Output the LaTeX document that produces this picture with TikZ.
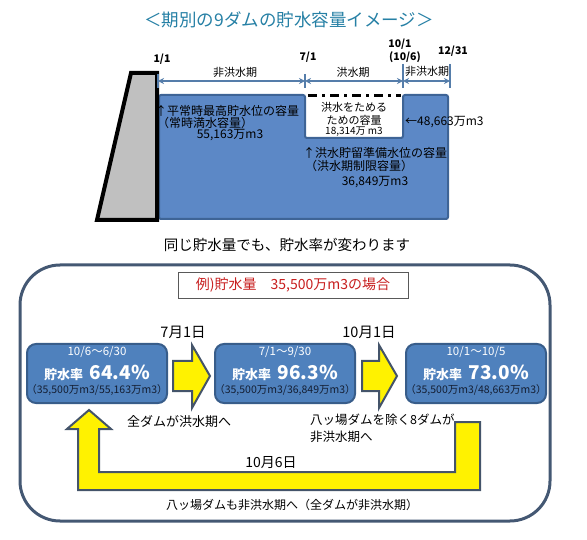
\documentclass[tikz,border=0pt]{standalone}
\usepackage{fontspec}
\setmainfont{Noto Sans CJK JP}
\usetikzlibrary{arrows.meta, positioning, calc}
\definecolor{ttlteal}{RGB}{38,128,165}
\definecolor{wblue}{RGB}{92,136,198}
\definecolor{wedge}{RGB}{62,100,150}
\definecolor{bxblue}{RGB}{79,129,189}
\definecolor{bxedge}{RGB}{56,93,138}
\definecolor{dimblue}{RGB}{85,125,170}
\definecolor{framegr}{RGB}{68,88,115}
\definecolor{yedge}{RGB}{68,84,106}
\definecolor{exred}{RGB}{200,30,30}
\definecolor{damgray}{RGB}{192,192,192}
\definecolor{qtyink}{RGB}{20,30,50}
\newcommand{\fsz}[1]{\fontsize{#1}{#1}\selectfont}

\begin{document}
\begin{tikzpicture}[x=1pt, y=-1pt,
  lbl/.style={inner sep=0pt, font=\fsz{12}},
  datelbl/.style={inner sep=0pt, font=\fsz{10.5}\bfseries},
  period/.style={inner sep=0pt, font=\fsz{11}},
  ratebox/.style={rectangle, rounded corners=9pt, draw=bxedge, line width=2pt, fill=bxblue, minimum width=140pt, minimum height=59pt},
  datetxt/.style={inner sep=0pt, text=white, font=\fsz{11.5}},
  ratetxt/.style={inner sep=0pt, text=white, font=\fsz{13}\bfseries},
  qtytxt/.style={inner sep=0pt, text=qtyink, font=\fsz{10.5}},
  daytxt/.style={inner sep=0pt, font=\fsz{14.5}},
  note/.style={inner sep=0pt, font=\fsz{12.5}},
  yarr/.style={draw=yedge, line width=2pt, fill=yellow, line join=miter},
  dimarr/.style={{Stealth[length=6pt,width=6pt]}-{Stealth[length=6pt,width=6pt]}, dimblue, line width=1.2pt},
  dimtick/.style={dimblue, line width=1.2pt}
]
\useasboundingbox (0,0) rectangle (587,540);

% title
\node[inner sep=0pt, text=ttlteal, font=\fsz{17.5}] (title) at (289,20) {＜期別の9ダムの貯水容量イメージ＞};

% reservoir and dam
\draw[fill=wblue, draw=wedge, line width=2pt, rounded corners=2pt] (159,95) -- (305,95) -- (305,138) -- (403,138) -- (403,95) -- (448,95) -- (448,219) -- (159,219) -- cycle;
\draw[fill=damgray, line width=4pt, line join=miter] (131,73) -- (157,73) -- (157,220) -- (97,220) -- cycle;
\draw[line width=3pt, dash pattern=on 9pt off 5pt on 3pt off 5pt] (308,96) -- (401,96);

% period scale
\foreach \x/\y in {158/74, 305/74, 403/64, 450/64}
  \draw[dimtick] (\x,\y) -- (\x,88);
\coordinate (t1) at (158,81);
\coordinate (t2) at (305,81);
\coordinate (t3) at (403,81);
\coordinate (t4) at (450,81);
\draw[dimarr] (t1) -- (t2);
\draw[dimarr] (t2) -- (t3);
\draw[dimarr] (t3) -- (t4);

\node[datelbl] (d1) at (162,59) {1/1};
\node[datelbl] (d2) at (308,57) {7/1};
\node[datelbl] (d3) at (400,44) {10/1};
\node[datelbl] (d3b) at (405,57) {(10/6)};
\node[datelbl] (d4) at (453,51) {12/31};
\node[period] (p1) at (235,72) {非洪水期};
\node[period] (p2) at (353,72) {洪水期};
\node[period] (p3) at (427,71) {非洪水期};

% capacity labels
\node[lbl, anchor=west] (cap1) at (155,111) {↑平常時最高貯水位の容量};
\node[lbl, anchor=west] (cap1b) at (157,123) {（常時満水容量）};
\node[lbl] (cap1c) at (230,135) {55,163万m3};
\node[lbl, font=\fsz{11}] (nt1) at (354,107) {洪水をためる};
\node[lbl, font=\fsz{11}] (nt2) at (354,120) {ための容量};
\node[lbl, font=\fsz{10}] (nt3) at (354,132) {18,314万 m3};
\node[lbl, anchor=west] (cap3) at (405,122) {←48,663万m3};
\node[lbl, anchor=west] (cap2) at (303,153) {↑洪水貯留準備水位の容量};
\node[lbl, anchor=west] (cap2b) at (305,166) {（洪水期制限容量）};
\node[lbl] (cap2c) at (375,182) {36,849万m3};

\node[inner sep=0pt, font=\fsz{14.5}] (msg) at (287,245) {同じ貯水量でも、貯水率が変わります};

% example frame
\draw[draw=framegr, line width=3pt, rounded corners=40pt] (20,265) rectangle (550,521);
\node[draw=gray!70!black, line width=0.8pt, fill=white, text=exred, font=\fsz{14}, minimum width=230pt, minimum height=26pt, inner sep=0pt] (ex) at (293,285) {例)貯水量\quad 35,500万m3の場合};

% storage ratio boxes
\node[ratebox] (r1) at (97,373.5) {};
\node[ratebox, right=46pt of r1] (r2) {};
\node[ratebox, right=49pt of r2] (r3) {};

\node[datetxt] (r1d) at ([yshift=-9pt]r1.north) {10/6〜6/30};
\node[ratetxt] (r1p) at ([yshift=1pt]r1.center) {貯水率\enspace{\fsz{19}64.4\%}};
\node[qtytxt] (r1q) at ([yshift=14pt]r1.south) {（35,500万m3/55,163万m3）};
\node[datetxt] (r2d) at ([yshift=-9pt]r2.north) {7/1〜9/30};
\node[ratetxt] (r2p) at ([yshift=1pt]r2.center) {貯水率\enspace{\fsz{19}96.3\%}};
\node[qtytxt] (r2q) at ([yshift=14pt]r2.south) {（35,500万m3/36,849万m3）};
\node[datetxt] (r3d) at ([yshift=-9pt]r3.north) {10/1〜10/5};
\node[ratetxt] (r3p) at ([yshift=1pt]r3.center) {貯水率\enspace{\fsz{19}73.0\%}};
\node[qtytxt] (r3q) at ([yshift=14pt]r3.south) {（35,500万m3/48,663万m3）};

% change arrows
\draw[yarr] (173,361) -- (192,361) -- (192,345) -- (210,376) -- (192,408) -- (192,391) -- (173,391) -- cycle;
\draw[yarr] (362,361) -- (379,361) -- (379,345) -- (397,376) -- (379,408) -- (379,391) -- (362,391) -- cycle;
\draw[yarr] (89,410) -- (111,429) -- (99,429) -- (99,472) -- (455,472) -- (455,422) -- (480,422) -- (480,490) -- (78,490) -- (78,429) -- (67,429) -- cycle;

\node[daytxt] (day1) at (183,332) {7月1日};
\node[daytxt] (day2) at (369,332) {10月1日};
\node[daytxt, font=\fsz{14}] (day3) at (271,463) {10月6日};

\node[note, anchor=west, font=\fsz{13}] (n1) at (127,422) {全ダムが洪水期へ};
\node[note, anchor=west] (n2) at (310,420) {八ッ場ダムを除く8ダムが};
\node[note, anchor=west] (n2b) at (310,437) {非洪水期へ};
\node[note, font=\fsz{12}] (n3) at (292,505) {八ッ場ダムも非洪水期へ（全ダムが非洪水期）};
\end{tikzpicture}
\end{document}
